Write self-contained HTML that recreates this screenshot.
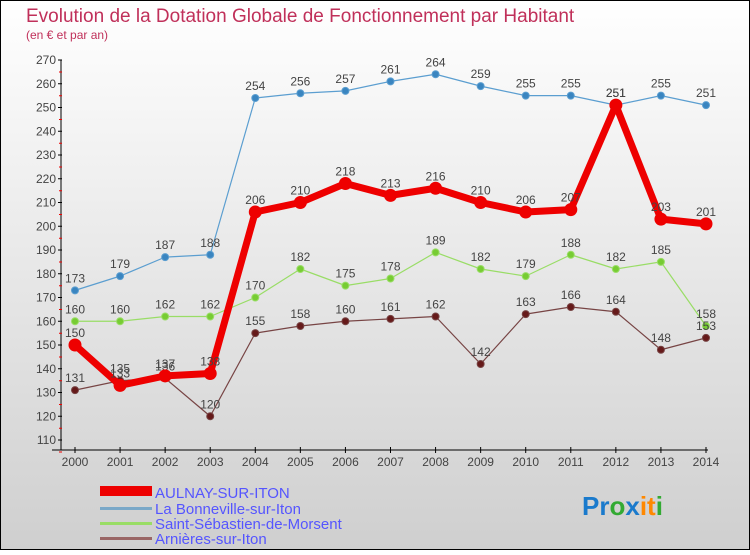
<!DOCTYPE html>
<html><head><meta charset="utf-8"><style>
body{margin:0;}
#c{width:750px;height:550px;position:relative;font-family:"Liberation Sans",sans-serif;}
svg text{font-family:"Liberation Sans",sans-serif;}
</style></head><body>
<div id="c">
<svg id="s" width="750" height="550" xmlns="http://www.w3.org/2000/svg">
<defs><linearGradient id="bg" x1="0" y1="0" x2="0" y2="1"><stop offset="0" stop-color="#ffffff"/><stop offset="1" stop-color="#cfcfcf"/></linearGradient></defs>
<rect x="0.5" y="0.5" width="749" height="549" fill="url(#bg)" stroke="#000"/>
<text x="26" y="22" font-size="19" fill="#c0305a">Evolution de la Dotation Globale de Fonctionnement par Habitant</text>
<text x="26" y="39" font-size="12" fill="#c0305a">(en € et par an)</text>
<g id="axes"></g><g id="series"></g>
<g>
<rect x="100" y="486" width="52" height="10" fill="#ee0000"/>
<text x="155" y="498" font-size="15" fill="#5555ff">AULNAY-SUR-ITON</text>
<rect x="100" y="507" width="52" height="3" fill="#7aa8c8"/>
<text x="155" y="514" font-size="15" fill="#5555ff">La Bonneville-sur-Iton</text>
<rect x="100" y="522" width="52" height="3" fill="#99dd66"/>
<text x="155" y="529" font-size="15" fill="#5555ff">Saint-Sébastien-de-Morsent</text>
<rect x="100" y="537" width="52" height="3" fill="#996666"/>
<text x="155" y="544" font-size="15" fill="#5555ff">Arnières-sur-Iton</text>
</g>
<text x="582" y="515" font-size="26" font-weight="bold"><tspan fill="#1a7acc">Pr</tspan><tspan fill="#33aa33">o</tspan><tspan fill="#1a7acc">x</tspan><tspan fill="#ff8800">it</tspan><tspan fill="#33aa33">i</tspan></text>
</svg></div>
<script>
const years=[2000,2001,2002,2003,2004,2005,2006,2007,2008,2009,2010,2011,2012,2013,2014];
const yTicks=[110,120,130,140,150,160,170,180,190,200,210,220,230,240,250,260,270];
const aulnay=[150,133,137,138,206,210,218,213,216,210,206,207,251,203,201];
const bonneville=[173,179,187,188,254,256,257,261,264,259,255,255,251,255,251];
const saintSeb=[160,160,162,162,170,182,175,178,189,182,179,188,182,185,158];
const arnieres=[131,135,136,120,155,158,160,161,162,142,163,166,164,148,153];
const NS="http://www.w3.org/2000/svg";
const xS=y=>75+(y-2000)*(631/14);
const yS=v=>60+(270-v)*(380/160);
function mk(t,a,p){const e=document.createElementNS(NS,t);for(const k in a)e.setAttribute(k,a[k]);p.appendChild(e);return e;}
const ax=document.getElementById('axes');
const yl=mk('line',{x1:61,y1:60,x2:61,y2:450,stroke:'#000'},ax);


const xl=mk('line',{x1:52,y1:450,x2:708,y2:450,stroke:'#000'},ax);


yTicks.forEach(v=>{const y=yS(v);
 mk('line',{x1:58,y1:y,x2:62,y2:y,stroke:'#000'},ax);
 mk('line',{x1:59,y1:y+12,x2:62,y2:y+12,stroke:'#e00'},ax);
 const t=mk('text',{x:56,y:y+4,'font-size':12,'text-anchor':'end',fill:'#444'},ax);t.textContent=v;
 
 
});
years.forEach(yr=>{const x=xS(yr);
 mk('line',{x1:x,y1:447,x2:x,y2:453,stroke:'#000'},ax);
 const t=mk('text',{x:x,y:466,'font-size':12,'text-anchor':'middle',fill:'#444'},ax);t.textContent=yr;
 
 
});
const sg=document.getElementById('series');
function draw(data,color,w,r,name,fill){
 const g=mk('g',{},sg);
 
 
 const p=mk('polyline',{points:data.map((v,i)=>xS(years[i])+','+yS(v)).join(' '),fill:'none',stroke:color,'stroke-width':w,'stroke-linejoin':'round'},g);
 
 
 data.forEach((v,i)=>{
  const c=mk('circle',{cx:xS(years[i]),cy:yS(v),r:r,fill:fill,stroke:color,'stroke-width':1},g);
  
  
  const t=mk('text',{x:xS(years[i]),y:yS(v)-8,'font-size':12,'text-anchor':'middle',fill:'#444'},g);t.textContent=v;
  
  
 });
}
draw(bonneville,'#5b9ed0',1.2,3.5,'series-bonneville','#3a85c0');
draw(saintSeb,'#99dd66',1.2,3.5,'series-saint-sebastien','#77cc33');
draw(arnieres,'#774444',1.2,3.5,'series-arnieres','#661a1a');
draw(aulnay,'#ee0000',7,6,'series-aulnay','#ee0000');
</script>
</body></html>
